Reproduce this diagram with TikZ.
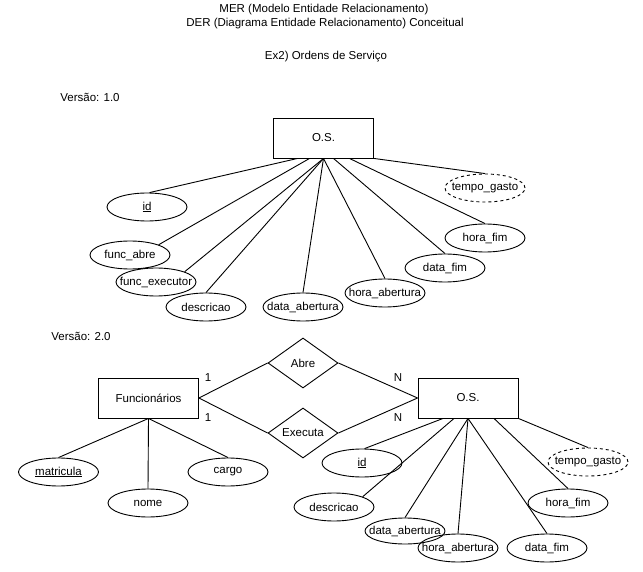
\documentclass[tikz,border=0pt]{standalone}
\usepackage{fontspec}
\setmainfont{Liberation Sans}
\usetikzlibrary{shapes.geometric}

\begin{document}
\begin{tikzpicture}[
		x = 1pt, y = -1pt, % pixel units, y going down
		font = \fontsize{11.5}{13}\selectfont,
		line width = 0.9pt % line style
		]
		
		\tikzstyle{entity}=[
		draw,
		rectangle,
		minimum width = 100pt,
		minimum height = 40pt
		]
		\tikzstyle{attrib}=[
		draw,
		ellipse,
		inner xsep = -10.5pt,
		inner ysep = 0pt,
		minimum width = 80pt,
		minimum height = 28pt
		]
		\tikzstyle{derived}=[attrib, dashed]
		\tikzstyle{relation}=[
		draw,
		diamond,
		aspect = 1.4,
		inner sep = 0pt,
		minimum width = 70pt,
		minimum height = 50pt
		]
		
		\useasboundingbox (0,0) rectangle (643,572);
		
		% titles
		\node (title1) at (324,10) {MER (Modelo Entidade Relacionamento)};
		\node (title2) at (325,24) {DER (Diagrama Entidade Relacionamento) Conceitual};
		\node (exer) at (326,57) {Ex2) Ordens de Serviço};
		\node (versao1) at (90,97) {Versão: 1.0};
		\node (versao2) at (81,336) {Versão: 2.0};
		
		% version 1.0
		\node[entity] (os1) at (323.5,138) {O.S.};
		\node[attrib] (id1) at (147,207) {\underline{id}};
		\node[attrib] (funcabre) at (130,255) {func\_abre};
		\node[attrib] (funcexec) at (156,282) {func\_executor};
		\node[attrib] (desc1) at (206,307) {descricao};
		\node[attrib] (dtab1) at (303,307) {data\_abertura};
		\node[attrib] (hrab1) at (385,293) {hora\_abertura};
		\node[attrib] (dtfim1) at (445,268) {data\_fim};
		\node[attrib] (hrfim1) at (485,238) {hora\_fim};
		\node[derived] (tempo1) at (485,188) {tempo\_gasto};
		
		\path ([xshift=-26pt]os1.south) edge (id1.80);
		\path ([xshift=-14pt]os1.south) edge (funcabre.north east);
		\path (os1.south) edge (funcexec.north east);
		\path (os1.south) edge (desc1.north);
		\path (os1.south) edge (dtab1.north);
		\path (os1.south) edge (hrab1.north);
		\path ([xshift=10pt]os1.south) edge (dtfim1.north);
		\path ([xshift=26pt]os1.south) edge (hrfim1.north);
		\path (os1.south east) edge (tempo1.north);
		
		% version 2.0
		\node[entity] (func) at (148.5,398) {Funcionários};
		\node[relation] (abre) at (303,363) {Abre};
		\node[relation] (executa) at (303,433) {Executa};
		\node[entity] (os2) at (468,398) {O.S.};
		
		\node (card1) at (208,378) {1};
		\node (card2) at (208,418) {1};
		\node (cardn1) at (398,378) {N};
		\node (cardn2) at (398,418) {N};
		
		\path (func.east) edge (abre.west);
		\path (func.east) edge (executa.west);
		\path (abre.east) edge (os2.west);
		\path (executa.east) edge (os2.west);
		
		\node[attrib] (matric) at (58.5,472) {\underline{matricula}};
		\node[attrib] (nome) at (148,503) {nome};
		\node[attrib] (cargo) at (228,472) {cargo};
		
		\path (func.south) edge (matric.north);
		\path (func.south) edge (nome.north);
		\path (func.south) edge (cargo.north);
		
		\node[attrib] (id2) at (362,463) {\underline{id}};
		\node[attrib] (desc2) at (334,507) {descricao};
		\node[attrib, minimum height = 26pt] (dtab2) at (405,531) {data\_abertura};
		\node[attrib] (hrab2) at (458,548) {hora\_abertura};
		\node[attrib] (dtfim2) at (547,548) {data\_fim};
		\node[attrib] (hrfim2) at (568,503) {hora\_fim};
		\node[derived] (tempo2) at (588,462) {tempo\_gasto};
		
		\path ([xshift=-25pt]os2.south) edge (id2.80);
		\path ([xshift=-14pt]os2.south) edge (desc2.north east);
		\path (os2.south) edge (dtab2.north);
		\path (os2.south) edge (hrab2.north);
		\path (os2.south) edge (dtfim2.north);
		\path ([xshift=26pt]os2.south) edge (hrfim2.north);
		\path (os2.south east) edge (tempo2.north);
		
		\end{tikzpicture}
\end{document}
